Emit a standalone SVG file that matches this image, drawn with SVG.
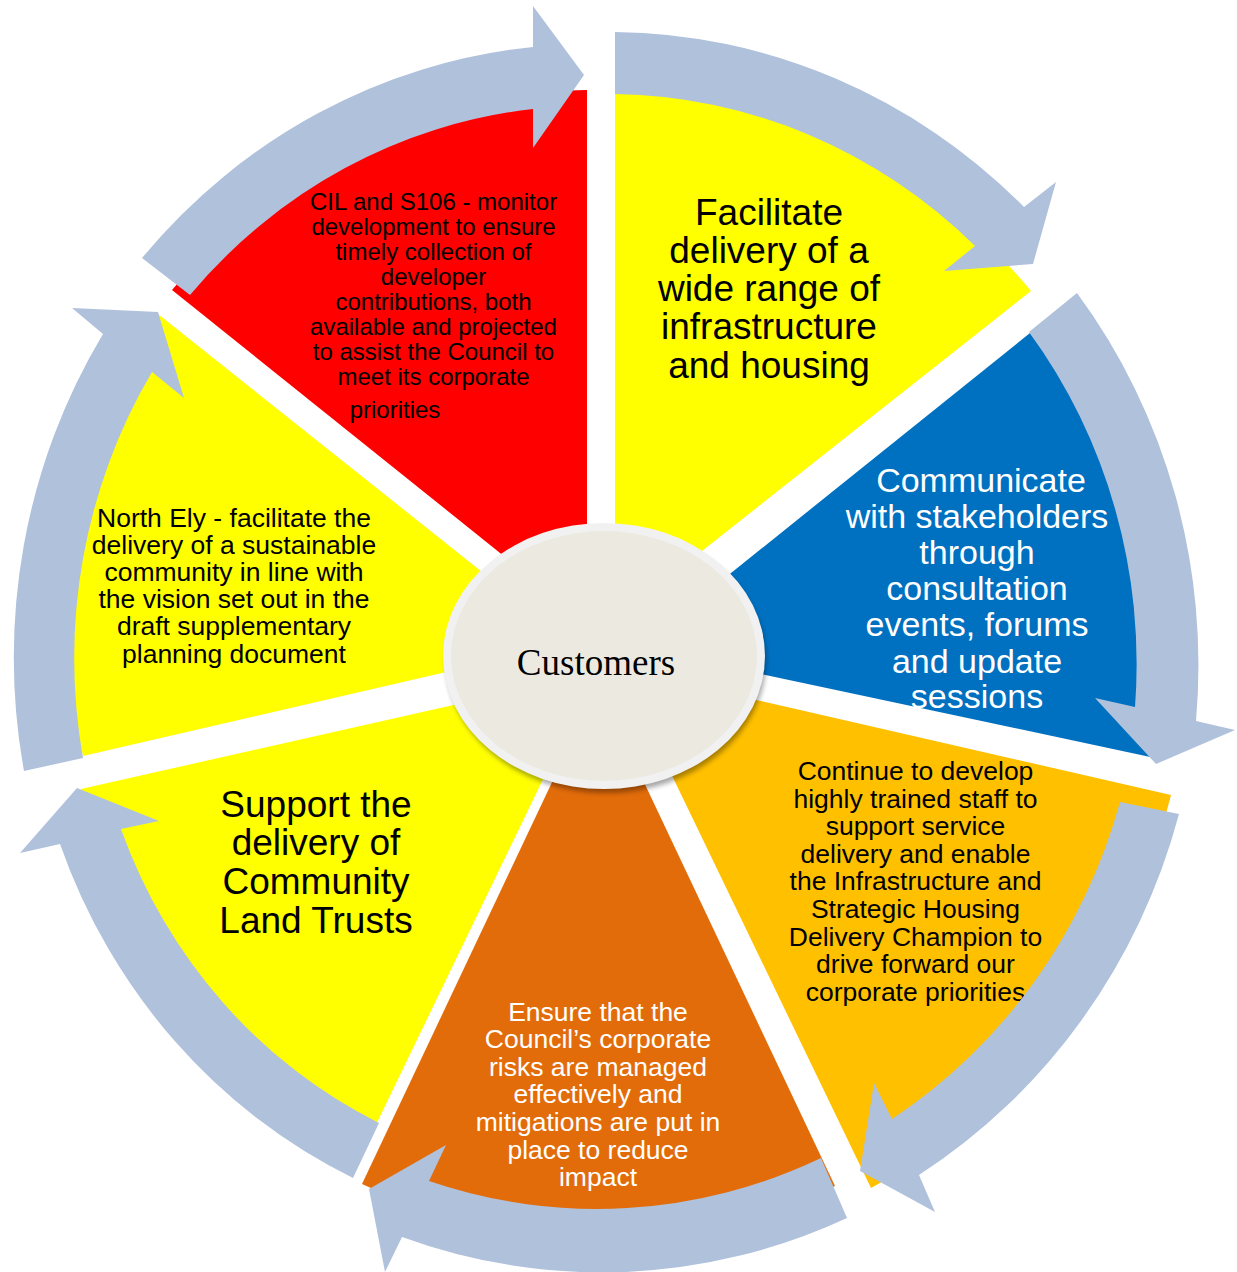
<svg xmlns="http://www.w3.org/2000/svg" width="1237" height="1272" viewBox="0 0 1237 1272">
<defs>
<style>
.arrow{fill:#B0C1DC;stroke:none}
.sans{font-family:"Liberation Sans",Arial,sans-serif;text-anchor:middle}
.blk{fill:#000}
.wht{fill:#fff}
.s24{font-size:24px}
.s26{font-size:26.5px}
.s34{font-size:34px}
.s37{font-size:37px}
</style>
<filter id="shadow" x="-20%" y="-20%" width="140%" height="140%">
<feGaussianBlur stdDeviation="2.5"/>
</filter>
</defs>
<rect width="1237" height="1272" fill="#fff"/>

<g id="sector-cil">
<path d="M560,601 L172,290 A549 570 0 0 1 587,90 L587,601 Z" fill="#FF0000"/>
<text class="sans blk s24"><tspan x="433.5" y="210">CIL and S106 - monitor</tspan><tspan x="433.5" y="235">development to ensure</tspan><tspan x="433.5" y="260">timely collection of</tspan><tspan x="433.5" y="285">developer</tspan><tspan x="433.5" y="310">contributions, both</tspan><tspan x="433.5" y="335">available and projected</tspan><tspan x="433.5" y="360">to assist the Council to</tspan><tspan x="433.5" y="385">meet its corporate</tspan><tspan x="395" y="418">priorities</tspan></text>
</g>

<g id="sector-facilitate">
<path d="M615,600 L615,92 A549 570 0 0 1 1031,291 L640,600 Z" fill="#FFFF00"/>
<text class="sans blk s37"><tspan x="769" y="224.5">Facilitate</tspan><tspan x="769" y="262.8">delivery of a</tspan><tspan x="769" y="301">wide range of</tspan><tspan x="769" y="339.4">infrastructure</tspan><tspan x="769" y="377.6">and housing</tspan></text>
</g>

<g id="sector-communicate">
<path d="M680,614 L1030,333 A554 575 0 0 1 1155,758 L700,661 Z" fill="#0070C0"/>
<text class="sans wht s34"><tspan x="981" y="492">Communicate</tspan><tspan x="977" y="528">with stakeholders</tspan><tspan x="977" y="564">through</tspan><tspan x="977" y="600">consultation</tspan><tspan x="977" y="636">events, forums</tspan><tspan x="977" y="673">and update</tspan><tspan x="977" y="708">sessions</tspan></text>
</g>

<g id="sector-staff">
<path d="M700,687 L1171,795 A585 607 0 0 1 871,1188 L650,730 Z" fill="#FFC000"/>
<text class="sans blk s26"><tspan x="915.5" y="780">Continue to develop</tspan><tspan x="915.5" y="807.6">highly trained staff to</tspan><tspan x="915.5" y="835.2">support service</tspan><tspan x="915.5" y="862.8">delivery and enable</tspan><tspan x="915.5" y="890.4">the Infrastructure and</tspan><tspan x="915.5" y="918">Strategic Housing</tspan><tspan x="915.5" y="945.6">Delivery Champion to</tspan><tspan x="915.5" y="973.2">drive forward our</tspan><tspan x="915.5" y="1000.8">corporate priorities</tspan></text>
</g>

<g id="sector-risks">
<path d="M624,740 L835,1186 A568 590 0 0 1 362,1184 L572,740 Z" fill="#E36C0A"/>
<text class="sans wht s26"><tspan x="598" y="1020.6">Ensure that the</tspan><tspan x="598" y="1048.2">Council’s corporate</tspan><tspan x="598" y="1075.8">risks are managed</tspan><tspan x="598" y="1103.4">effectively and</tspan><tspan x="598" y="1131">mitigations are put in</tspan><tspan x="598" y="1158.6">place to reduce</tspan><tspan x="598" y="1186.2">impact</tspan></text>
</g>

<g id="sector-clt">
<path d="M562,740 L371,1135 A535 555 0 0 1 81,789 L520,690 Z" fill="#FFFF00"/>
<text class="sans blk s37"><tspan x="316" y="816.5">Support the</tspan><tspan x="316" y="855.3">delivery of</tspan><tspan x="316" y="894">Community</tspan><tspan x="316" y="933">Land Trusts</tspan></text>
</g>

<g id="sector-northely">
<path d="M520,655 L83,756 A541 562 0 0 1 158,314 L540,618 Z" fill="#FFFF00"/>
<text class="sans blk s26"><tspan x="234" y="526.5">North Ely - facilitate the</tspan><tspan x="234" y="553.7">delivery of a sustainable</tspan><tspan x="234" y="580.9">community in line with</tspan><tspan x="234" y="608.1">the vision set out in the</tspan><tspan x="234" y="635.3">draft supplementary</tspan><tspan x="234" y="662.5">planning document</tspan></text>
</g>

<g id="connectors">
<path class="arrow" d="M142,258 A592 615 0 0 1 533,47 L533,6 L584,75 L533,148 L533,109 A530 550 0 0 0 190,295 Z"/>
<path class="arrow" d="M615,32 A595 618 0 0 1 1024,207 L1056,182 L1033,264 L944,271 L975,246 A534 555 0 0 0 615,94 Z"/>
<path class="arrow" d="M1077,293 A589 612 0 0 1 1196,721 L1235,730 L1156,764 L1095,698 L1135,707 A529 549 0 0 0 1029,332 Z"/>
<path class="arrow" d="M1179,814 A597 620 0 0 1 919,1175 L935,1212 L860,1171 L874,1083 L892,1119 A537 558 0 0 0 1120,802 Z"/>
<path class="arrow" d="M847,1218 A601 624 0 0 1 402,1237 L385,1272 L369,1189 L446,1145 L429,1181 A537 558 0 0 0 821,1158 Z"/>
<path class="arrow" d="M353,1178 A572 594 0 0 1 60,844 L20,853 L77,788 L159,821 L121,829 A511 531 0 0 0 379,1123 Z"/>
<path class="arrow" d="M24,771 A588 611 0 0 1 103,334 L72,308 L158,312 L184,398 L152,372 A528 548 0 0 0 83,758 Z"/>
</g>

<g id="center-customers">
<ellipse cx="606" cy="661" rx="160" ry="132" fill="#000" opacity="0.35" filter="url(#shadow)"/>
<ellipse cx="604" cy="656" rx="161" ry="133" fill="#F1F1F1"/>
<ellipse cx="604" cy="656" rx="153" ry="125" fill="#ECEAE0"/>
<text x="596" y="675" font-family="'Liberation Serif','Times New Roman',serif" font-size="37" text-anchor="middle" fill="#000">Customers</text>
</g>
</svg>
